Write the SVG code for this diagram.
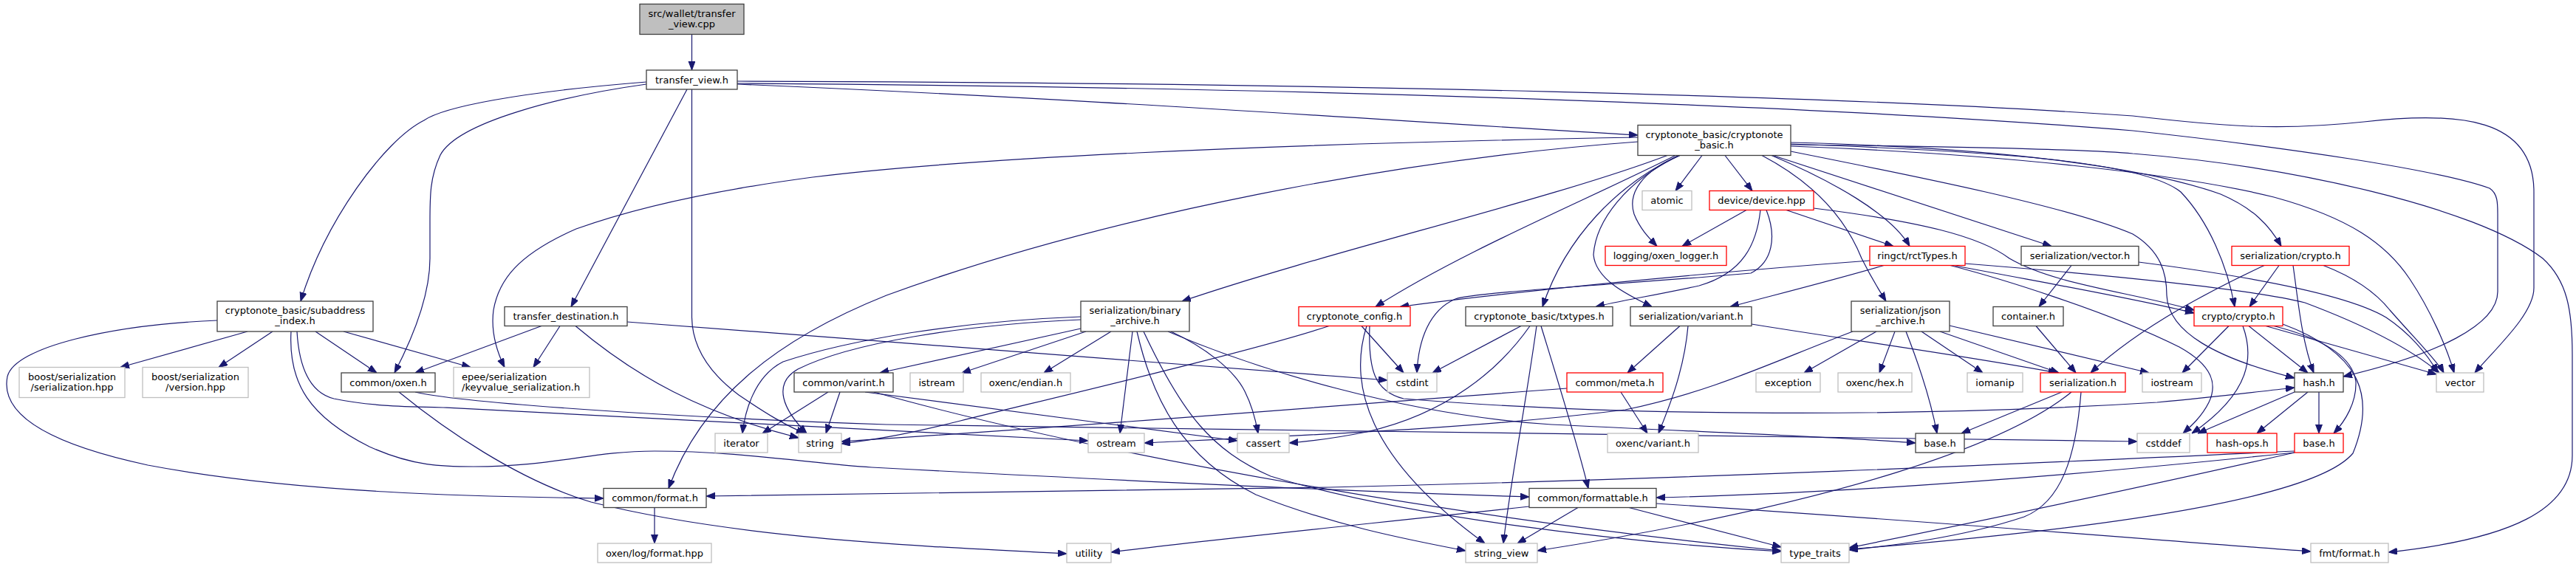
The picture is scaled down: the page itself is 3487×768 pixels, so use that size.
<svg xmlns="http://www.w3.org/2000/svg" width="3487" height="768" viewBox="0 0 3487 768">
<style>
.n rect{fill:#fff;stroke:#404040;stroke-width:1.3}
.g rect{stroke:#bfbfbf}
.r rect{stroke:#ff0000}
.root rect{fill:#bfbfbf}
text{font-family:"DejaVu Sans","Liberation Sans",sans-serif;font-size:13px;text-anchor:middle;fill:#000}
text.l{text-anchor:start}
#edges path{fill:none;stroke:#191970;stroke-width:1.2;marker-end:url(#a)}
</style>
<defs>
<marker id="a" markerUnits="userSpaceOnUse" markerWidth="12" markerHeight="10" refX="12" refY="4.5" orient="auto"><path d="M0,0 L12,4.5 L0,9 z" fill="#191970" stroke="#191970" stroke-width="1"/></marker>
</defs>
<rect width="3487" height="768" fill="#fff"/>
<g id="edges">
<path d="M936.5,46.5 L936.5,95"/>
<path d="M998,114 C1500,135 1900,165 2217,183"/>
<path d="M875,111 C700,125 600,145 574,163 C520,190 440,300 407,408"/>
<path d="M875,114 C760,130 620,165 596,210 C582,240 582,265 582,300 L582,350 C582,400 560,455 534,505"/>
<path d="M930,121 L773,415.5"/>
<path d="M936.5,121 L936.5,430 C937,470 960,505 1000,535 C1040,562 1065,577 1090,587"/>
<path d="M998,110 C1800,112 2500,130 2887,157 C3000,170 3080,178 3200,165 C3330,150 3430,160 3430,260 L3430,390 C3430,425 3380,470 3350,505"/>
<path d="M998,113 C1800,118 2500,145 2887,177 C3100,200 3300,230 3370,255 C3381,262 3381,275 3381,290 L3381,395 C3381,440 3300,480 3172,510"/>
<path d="M335,449 L163,497.5"/>
<path d="M369,449 L296,497.5"/>
<path d="M427,449 L510,505"/>
<path d="M465,449 L637,497.5"/>
<path d="M294,434 C150,440 20,470 10,510 C0,560 60,600 200,630 C400,668 650,673 817,675"/>
<path d="M394,449 C390,520 420,565 500,605 C560,632 600,632 641,632 C750,632 800,611 886,611 C1000,611 1100,628 1180,633 C1500,650 1800,665 2070,673"/>
<path d="M402,449 C405,500 420,532 452,540 C500,550 550,551 600,552 C900,566 1200,583 1473,597"/>
<path d="M2304,210.5 L2268,258.5"/>
<path d="M2335,210.5 L2372,258.5"/>
<path d="M2274,210.5 C2222,232 2203,262 2212,290 C2220,310 2232,322 2243,333.5"/>
<path d="M2398,210.5 C2480,245 2560,290 2585,333.5"/>
<path d="M2400,210.5 L2777,333.5"/>
<path d="M2424,193 C2700,200 2900,225 3006,263 C3050,282 3072,305 3088,333.5"/>
<path d="M2424,195 C2700,205 2900,218 2952,260 C2990,300 3015,360 3025,415.5"/>
<path d="M2424,205 C2600,240 2800,280 2887,317 C2925,340 2933,370 2933,400 C2935,450 3000,485 3106,512"/>
<path d="M2424,198 C2700,208 2950,235 3078,267 C3180,295 3230,330 3262,378 C3290,420 3312,470 3322,505"/>
<path d="M2424,196 C2700,199 2850,204 2887,208 C3100,225 3350,280 3442,350 C3475,380 3482,420 3482,480 L3482,617 C3482,690 3400,730 3233,748"/>
<path d="M2217,192 C1900,215 1500,290 1200,400 C1050,460 950,540 905,661.5"/>
<path d="M2217,186 C1700,195 1300,215 1100,240 C950,260 850,285 780,310 C700,345 675,380 668,420 C664,450 672,475 683,497.5"/>
<path d="M2257,210.5 C2100,270 1800,340 1600,408"/>
<path d="M2268,210.5 C2150,270 1980,340 1862,415.5"/>
<path d="M2272,210.5 C2190,250 2120,320 2088,415.5"/>
<path d="M2274,210.5 C2200,245 2160,300 2157,345 C2160,378 2200,398 2236,415.5"/>
<path d="M2385,210.5 C2460,250 2500,300 2520,350 C2535,380 2545,395 2553,408"/>
<path d="M2364,284.5 L2277,333.5"/>
<path d="M2418,284.5 L2563,333.5"/>
<path d="M2455,282 C2600,300 2680,320 2720,350 C2780,385 2880,395 2970,420"/>
<path d="M2383,284.5 C2378,330 2360,370 2300,387 C2240,400 2190,408 2160,415.5"/>
<path d="M2391,284.5 C2405,320 2400,355 2370,370 C2200,385 2000,395 1970,405 C1935,420 1920,460 1918,505"/>
<path d="M2531,353 C2300,370 2050,395 1895,415.5"/>
<path d="M2550,359.5 C2480,380 2400,400 2342,415.5"/>
<path d="M2645,359.5 C2750,380 2880,402 2970,424"/>
<path d="M2640,359.5 C2700,375 2850,420 2950,470 C2995,495 3002,520 2990,545 C2980,565 2965,578 2955,587"/>
<path d="M2660,357 C2850,372 3050,392 3120,410 C3200,440 3260,470 3302,505"/>
<path d="M2804,359.5 L2760,415.5"/>
<path d="M2895,355 C3050,375 3180,400 3230,430 C3260,450 3285,478 3300,505"/>
<path d="M3065,359.5 C3000,390 2900,440 2830,505"/>
<path d="M3085,359.5 L3045,415.5"/>
<path d="M3104,359.5 C3110,400 3115,460 3132,505"/>
<path d="M3145,359.5 C3185,375 3215,395 3235,420 C3270,460 3300,490 3308,505"/>
<path d="M3017,441.5 L2954,505"/>
<path d="M3036,441.5 C3050,480 3050,530 2967,587"/>
<path d="M3044,441.5 L3124,505"/>
<path d="M3067,441.5 L3298,507"/>
<path d="M3078,441.5 C3150,460 3185,485 3189,517 C3190,545 3175,570 3159,587"/>
<path d="M3090,439 C3200,480 3215,540 3185,614 C3130,680 2800,720 2503,744"/>
<path d="M3106,531 L2975,587"/>
<path d="M3124,531 L3055,587"/>
<path d="M3139,531 L3139,587"/>
<path d="M1854,441.5 C1852,500 1860,530 1900,540 C2200,565 2600,565 2920,545 C3000,538 3060,530 3106,525"/>
<path d="M2540,449 L2442,505"/>
<path d="M2565,449 L2544,505"/>
<path d="M2580,449 C2600,500 2615,550 2622,587"/>
<path d="M2601,449 L2684,505"/>
<path d="M2626,449 L2787,505"/>
<path d="M2639,441 L2909,505"/>
<path d="M2508,449 C2400,490 2320,530 2200,555 C2000,580 1800,588 1549,600"/>
<path d="M2371,439 C2500,460 2650,480 2785,505"/>
<path d="M2274,441.5 L2203,505"/>
<path d="M2285,441.5 C2280,500 2260,550 2245,587"/>
<path d="M2756,441.5 L2810,505"/>
<path d="M2194,531 L2230,587"/>
<path d="M2121,526 C1800,550 1500,575 1139,598"/>
<path d="M2059,441.5 L1939,505"/>
<path d="M2071,441.5 C2030,500 1960,560 1850,585 C1800,595 1770,598 1745,600"/>
<path d="M2080,441.5 C2065,550 2045,650 2035,736"/>
<path d="M2086,441.5 C2110,520 2135,600 2150,661.5"/>
<path d="M1843,441.5 L1900,505"/>
<path d="M1799,441.5 C1700,475 1400,545 1300,570 C1220,590 1180,596 1139,601"/>
<path d="M1850,441.5 C1825,520 1850,620 2010,736"/>
<path d="M733,441.5 L562,505"/>
<path d="M758,441.5 L722,497.5"/>
<path d="M779,441.5 C860,510 950,560 1081,593"/>
<path d="M849,436 C1200,462 1600,495 1878,515"/>
<path d="M540,531 C600,580 700,650 800,680 C1000,730 1250,740 1444,750"/>
<path d="M562,531 C620,545 900,565 1200,575 C1800,585 2500,588 2893,598"/>
<path d="M1121,531 L1032,587"/>
<path d="M1137,531 L1118,587"/>
<path d="M1171,531 L1675,597"/>
<path d="M1183,531 C1500,620 2000,705 2411,746"/>
<path d="M1463,445 L1191,505"/>
<path d="M1470,449 L1302,505"/>
<path d="M1504,449 L1413,505"/>
<path d="M1533,449 L1516,587"/>
<path d="M1585,449 C1630,470 1670,500 1685,530 C1695,550 1700,570 1703,587"/>
<path d="M1539,449 C1560,540 1600,620 1700,670 C1800,710 1900,730 1984,746"/>
<path d="M1548,449 C1600,560 1640,610 1720,645 C1900,700 2200,735 2411,747"/>
<path d="M1463,429 C1300,435 1150,460 1060,490 C1020,510 1008,560 1005,587"/>
<path d="M1463,433 C1300,440 1150,465 1080,500 C1045,520 1060,555 1092,587"/>
<path d="M1581,449 C1700,500 1900,562 2100,575 C2300,585 2500,592 2593,600"/>
<path d="M886,687.5 L886,736"/>
<path d="M2070,686 C1800,715 1600,735 1504,748"/>
<path d="M2136,687.5 L2054,736"/>
<path d="M2205,687.5 L2411,741"/>
<path d="M2242,682 C2600,705 2900,730 3128,747"/>
<path d="M3106,611 C2700,630 2300,648 1800,660 C1400,668 1100,670 956,672"/>
<path d="M3106,613 C2800,645 2500,668 2242,674"/>
<path d="M3106,613 C2900,660 2650,712 2503,742"/>
<path d="M2791,531 L2655,587"/>
<path d="M2804,531 C2720,600 2500,680 2081,746"/>
<path d="M2817,531 C2810,620 2790,680 2740,700 C2650,730 2550,740 2503,745"/>
</g>
<g id="n_cpp" class="n root"><rect x="866" y="5.5" width="141" height="41"/><text x="936.5" y="22.5">src/wallet/transfer</text><text x="936.5" y="36.5">_view.cpp</text></g>
<g id="n_tv" class="n"><rect x="875" y="95" width="123" height="26"/><text x="936.5" y="112.5">transfer_view.h</text></g>
<g id="n_basic" class="n"><rect x="2217" y="169.5" width="207" height="41"/><text x="2320.5" y="186.5">cryptonote_basic/cryptonote</text><text x="2320.5" y="200.5">_basic.h</text></g>
<g id="n_atomic" class="n g"><rect x="2223" y="258.5" width="67" height="26"/><text x="2256.5" y="276">atomic</text></g>
<g id="n_device" class="n r"><rect x="2314" y="258.5" width="141" height="26"/><text x="2384.5" y="276">device/device.hpp</text></g>
<g id="n_logger" class="n r"><rect x="2173" y="333.5" width="164" height="26"/><text x="2255" y="351">logging/oxen_logger.h</text></g>
<g id="n_rct" class="n r"><rect x="2531" y="333.5" width="129" height="26"/><text x="2595.5" y="351">ringct/rctTypes.h</text></g>
<g id="n_svector" class="n"><rect x="2736" y="333.5" width="159" height="26"/><text x="2815.5" y="351">serialization/vector.h</text></g>
<g id="n_scrypto" class="n r"><rect x="3021" y="333.5" width="159" height="26"/><text x="3100.5" y="351">serialization/crypto.h</text></g>
<g id="n_subaddr" class="n"><rect x="294" y="408" width="211" height="41"/><text x="399.5" y="425">cryptonote_basic/subaddress</text><text x="399.5" y="439">_index.h</text></g>
<g id="n_tdest" class="n"><rect x="683" y="415.5" width="166" height="26"/><text x="766" y="433">transfer_destination.h</text></g>
<g id="n_binarch" class="n"><rect x="1463" y="408" width="147" height="41"/><text x="1536.5" y="425">serialization/binary</text><text x="1536.5" y="439">_archive.h</text></g>
<g id="n_config" class="n r"><rect x="1758" y="415.5" width="151" height="26"/><text x="1833.5" y="433">cryptonote_config.h</text></g>
<g id="n_txtypes" class="n"><rect x="1984" y="415.5" width="199" height="26"/><text x="2083.5" y="433">cryptonote_basic/txtypes.h</text></g>
<g id="n_svariant" class="n"><rect x="2207" y="415.5" width="164" height="26"/><text x="2289" y="433">serialization/variant.h</text></g>
<g id="n_json" class="n"><rect x="2506" y="408" width="133" height="41"/><text x="2572.5" y="425">serialization/json</text><text x="2572.5" y="439">_archive.h</text></g>
<g id="n_container" class="n"><rect x="2698" y="415.5" width="95" height="26"/><text x="2745.5" y="433">container.h</text></g>
<g id="n_crypto" class="n r"><rect x="2970" y="415.5" width="120" height="26"/><text x="3030" y="433">crypto/crypto.h</text></g>
<g id="n_bser" class="n g"><rect x="26" y="497.5" width="143" height="41"/><text x="97.5" y="514.5">boost/serialization</text><text x="97.5" y="528.5">/serialization.hpp</text></g>
<g id="n_bver" class="n g"><rect x="193" y="497.5" width="143" height="41"/><text x="264.5" y="514.5">boost/serialization</text><text x="264.5" y="528.5">/version.hpp</text></g>
<g id="n_oxen" class="n"><rect x="462" y="505" width="127" height="26"/><text x="525.5" y="522.5">common/oxen.h</text></g>
<g id="n_epee" class="n g"><rect x="614" y="497.5" width="184" height="41"/><text class="l" x="625" y="514.5">epee/serialization</text><text class="l" x="625" y="528.5">/keyvalue_serialization.h</text></g>
<g id="n_varint" class="n"><rect x="1075" y="505" width="134" height="26"/><text x="1142" y="522.5">common/varint.h</text></g>
<g id="n_istream" class="n g"><rect x="1232" y="505" width="72" height="26"/><text x="1268" y="522.5">istream</text></g>
<g id="n_endian" class="n g"><rect x="1328" y="505" width="121" height="26"/><text x="1388.5" y="522.5">oxenc/endian.h</text></g>
<g id="n_cstdint" class="n g"><rect x="1878" y="505" width="67" height="26"/><text x="1911.5" y="522.5">cstdint</text></g>
<g id="n_meta" class="n r"><rect x="2121" y="505" width="130" height="26"/><text x="2186" y="522.5">common/meta.h</text></g>
<g id="n_exception" class="n g"><rect x="2377" y="505" width="87" height="26"/><text x="2420.5" y="522.5">exception</text></g>
<g id="n_hex" class="n g"><rect x="2488" y="505" width="100" height="26"/><text x="2538" y="522.5">oxenc/hex.h</text></g>
<g id="n_iomanip" class="n g"><rect x="2663" y="505" width="75" height="26"/><text x="2700.5" y="522.5">iomanip</text></g>
<g id="n_serial" class="n r"><rect x="2762" y="505" width="115" height="26"/><text x="2819.5" y="522.5">serialization.h</text></g>
<g id="n_iostream" class="n g"><rect x="2900" y="505" width="80" height="26"/><text x="2940" y="522.5">iostream</text></g>
<g id="n_hash" class="n"><rect x="3106" y="505" width="66" height="26"/><text x="3139" y="522.5">hash.h</text></g>
<g id="n_vector" class="n g"><rect x="3298" y="505" width="64" height="26"/><text x="3330" y="522.5">vector</text></g>
<g id="n_iterator" class="n g"><rect x="968" y="587" width="71" height="26"/><text x="1003.5" y="604.5">iterator</text></g>
<g id="n_string" class="n g"><rect x="1081" y="587" width="58" height="26"/><text x="1110" y="604.5">string</text></g>
<g id="n_ostream" class="n g"><rect x="1473" y="587" width="76" height="26"/><text x="1511" y="604.5">ostream</text></g>
<g id="n_cassert" class="n g"><rect x="1675" y="587" width="70" height="26"/><text x="1710" y="604.5">cassert</text></g>
<g id="n_ovariant" class="n g"><rect x="2176" y="587" width="123" height="26"/><text x="2237.5" y="604.5">oxenc/variant.h</text></g>
<g id="n_base1" class="n"><rect x="2593" y="587" width="66" height="26"/><text x="2626" y="604.5">base.h</text></g>
<g id="n_cstddef" class="n g"><rect x="2893" y="587" width="71" height="26"/><text x="2928.5" y="604.5">cstddef</text></g>
<g id="n_hashops" class="n r"><rect x="2988" y="587" width="94" height="26"/><text x="3035" y="604.5">hash-ops.h</text></g>
<g id="n_base2" class="n r"><rect x="3106" y="587" width="66" height="26"/><text x="3139" y="604.5">base.h</text></g>
<g id="n_format" class="n"><rect x="817" y="661.5" width="139" height="26"/><text x="886.5" y="679">common/format.h</text></g>
<g id="n_formattable" class="n"><rect x="2070" y="661.5" width="172" height="26"/><text x="2156" y="679">common/formattable.h</text></g>
<g id="n_logfmt" class="n g"><rect x="809" y="736" width="154" height="26"/><text x="886" y="753.5">oxen/log/format.hpp</text></g>
<g id="n_utility" class="n g"><rect x="1444" y="736" width="60" height="26"/><text x="1474" y="753.5">utility</text></g>
<g id="n_sv" class="n g"><rect x="1984" y="736" width="97" height="26"/><text x="2032.5" y="753.5">string_view</text></g>
<g id="n_tt" class="n g"><rect x="2411" y="736" width="92" height="26"/><text x="2457" y="753.5">type_traits</text></g>
<g id="n_fmt" class="n g"><rect x="3128" y="736" width="105" height="26"/><text x="3180.5" y="753.5">fmt/format.h</text></g>
</svg>
